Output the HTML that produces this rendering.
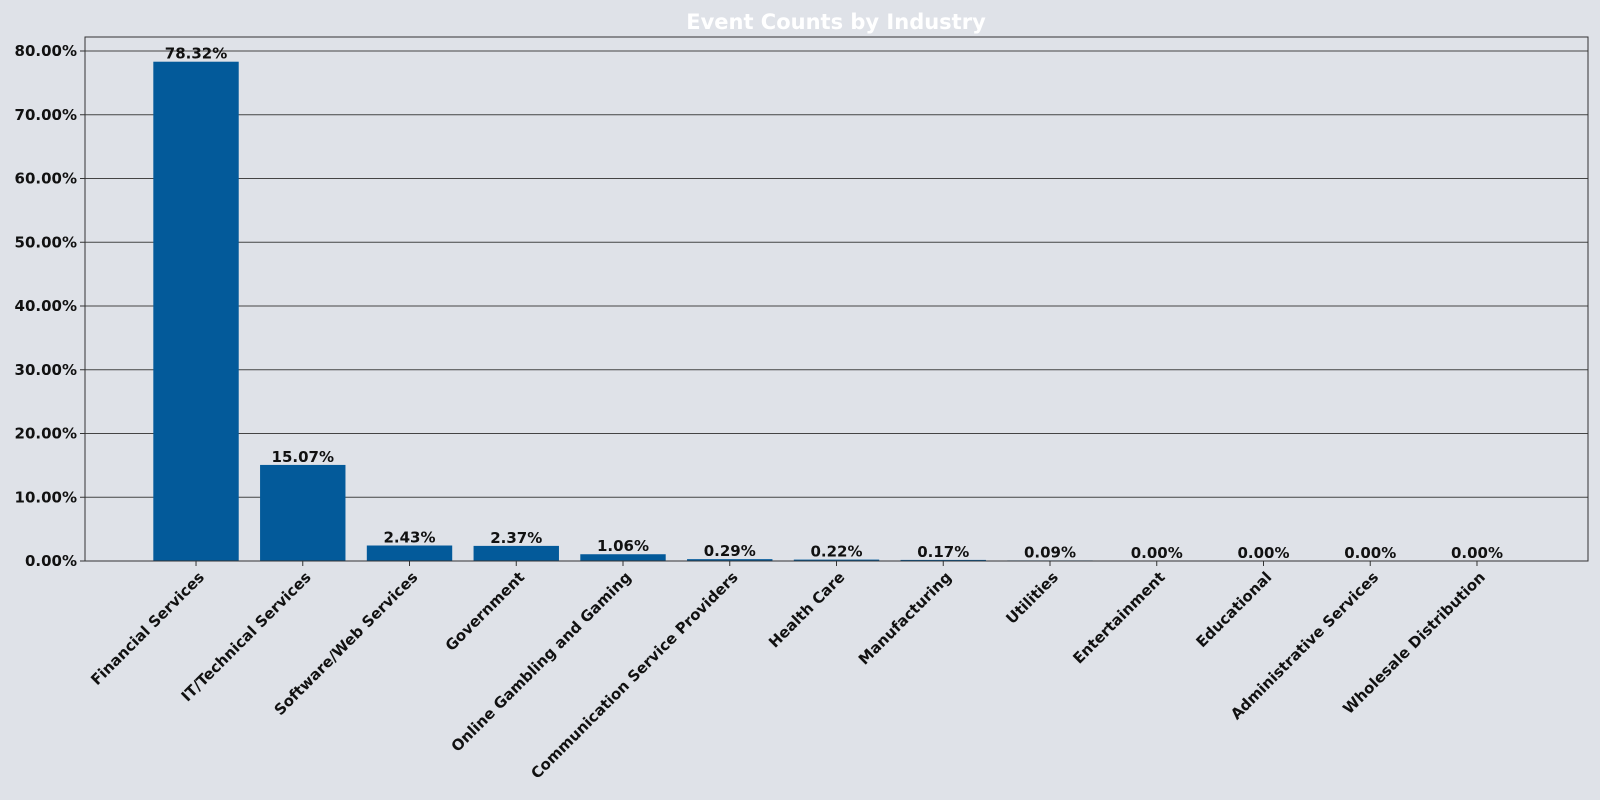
<!DOCTYPE html>
<html><head><meta charset="utf-8"><style>
body{margin:0;background:#dfe2e8;}
svg{display:block;font-family:"DejaVu Sans","Liberation Sans",sans-serif;font-weight:bold;}
</style></head><body>
<svg width="1600" height="800" id="c">
<rect width="1600" height="800" fill="#dfe2e8"/>
<text x="836" y="29" text-anchor="middle" fill="#fff" font-size="21">Event Counts by Industry</text>
<g id="g"></g>
</svg>
<script>
const categories=["Financial Services","IT/Technical Services","Software/Web Services","Government","Online Gambling and Gaming","Communication Service Providers","Health Care","Manufacturing","Utilities","Entertainment","Educational","Administrative Services","Wholesale Distribution"];
const values=[78.32,15.07,2.43,2.37,1.06,0.29,0.22,0.17,0.09,0.00,0.00,0.00,0.00];
const yTicks=[0,10,20,30,40,50,60,70,80];
const L=85,R=1588,T=37,B=561;
const y=v=>B-v*6.375;
const step=(R-L)/(categories.length+1.08);
const x=i=>L+step*(i+1.04);
const bw=step*0.8;
const g=document.getElementById('g');
const NS='http://www.w3.org/2000/svg';
function mk(t,a){const e=document.createElementNS(NS,t);for(const k in a)e.setAttribute(k,a[k]);g.appendChild(e);return e;}
yTicks.forEach(t=>{
 const l=mk('line',{x1:L,x2:R,y1:y(t),y2:y(t),stroke:'#444','stroke-width':1});
 
 
 const tk=mk('line',{x1:L-5,x2:L,y1:y(t),y2:y(t),stroke:'#333'});
 
 
 const s=mk('text',{x:L-8,y:y(t)+5,'text-anchor':'end','font-size':15,fill:'#111'});
 s.textContent=t.toFixed(2)+'%';
 
 
});
categories.forEach((c,i)=>{
 const cx=x(i);
 const r=mk('rect',{x:cx-bw/2,y:y(values[i]),width:bw,height:B-y(values[i]),fill:'#035a9a'});
 
 
 const v=mk('text',{x:cx,y:y(values[i])-3,'text-anchor':'middle','font-size':15,fill:'#111'});
 v.textContent=values[i].toFixed(2)+'%';
 
 
 const tk=mk('line',{x1:cx,x2:cx,y1:B,y2:B+5,stroke:'#333'});
 
 
 const s=mk('text',{x:cx+2,y:B+20,'text-anchor':'end','font-size':15,fill:'#111',transform:`rotate(-45 ${cx+2} ${B+10})`});
 s.textContent=c;
 
 
});
const f=mk('rect',{x:L,y:T,width:R-L,height:B-T,fill:'none',stroke:'#333','stroke-width':1});


</script>
</body></html>
